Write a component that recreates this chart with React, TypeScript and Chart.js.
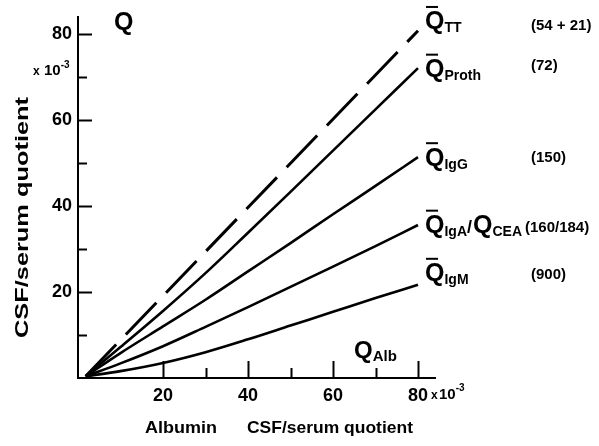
import React, { useEffect, useRef } from "react";
import { Chart, registerables } from "chart.js";

Chart.register(...registerables);

// ---------- data (units: x 10^-3) ----------
const ALBUMIN_Q = [1.8, 10, 20, 30, 40, 50, 60, 70, 80];
const Q_PROTH = [0.4, 7.2, 15.6, 24.4, 33.8, 43.3, 52.9, 62.5, 72.1];
const Q_IGG = [0.4, 5.8, 12.0, 18.2, 24.8, 31.4, 38.1, 44.7, 51.4];
const Q_IGA = [0.4, 3.4, 7.4, 11.9, 16.5, 21.2, 25.9, 30.7, 35.6];
const Q_IGM = [0.4, 1.6, 3.5, 6.0, 9.0, 12.2, 15.4, 18.6, 21.7];
const TT_ALBUMIN_Q = [1.8, 80];
const Q_TT = [0.4, 80.8];

const X_TICK_VALUES = [20, 30, 40, 50, 60, 70, 80];
const Y_TICK_VALUES = [10, 20, 30, 40, 50, 60, 70, 80];
const TICK_LABELS = [20, 40, 60, 80];

const CURVE_SUBS = ["TT", "Proth", "IgG", "IgA", "IgM"];
const CURVE_NOTES = ["(54 + 21)", "(72)", "(150)", "(160/184)", "(900)"];
// vertical anchors (data units) of the curve labels and notes
const LABEL_AT = [81.1, 70.0, 49.4, 33.7, 22.5];
const NOTE_AT = [81.0, 71.7, 50.3, 34.0, 23.0];

const FONT = '"Liberation Sans", Arial, Helvetica, sans-serif';
const INK = "#000";

const pts = (xs: number[], ys: number[]) => xs.map((x, i) => ({ x, y: ys[i] }));

function text(ctx: CanvasRenderingContext2D, s: string, x: number, yb: number, size: number) {
  ctx.font = `bold ${size}px ${FONT}`;
  ctx.textAlign = "left";
  ctx.textBaseline = "alphabetic";
  ctx.fillText(s, x, yb);
  return ctx.measureText(s).width;
}

function fitText(ctx: CanvasRenderingContext2D, s: string, x: number, yb: number, size: number, target: number) {
  ctx.font = `bold ${size}px ${FONT}`;
  const w = ctx.measureText(s).width;
  ctx.save();
  ctx.translate(x, yb);
  ctx.scale(target / w, 1);
  ctx.textAlign = "left";
  ctx.textBaseline = "alphabetic";
  ctx.fillText(s, 0, 0);
  ctx.restore();
}

function qBar(ctx: CanvasRenderingContext2D, x: number, yb: number, size: number, bar: boolean) {
  const w = text(ctx, "Q", x, yb, size);
  if (bar) {
    ctx.fillRect(x + 1, yb - size * 0.74 - 5, 12, 2);
  }
  return w;
}

const decorPlugin = {
  id: "decor",
  afterDraw(chart: any) {
    const { ctx, chartArea, scales } = chart;
    const xs = scales.x;
    const ys = scales.y;
    const { left, bottom } = chartArea;
    ctx.save();
    ctx.strokeStyle = INK;
    ctx.fillStyle = INK;
    ctx.lineWidth = 2;
    ctx.lineCap = "butt";

    // inner tick marks
    Y_TICK_VALUES.forEach((v) => {
      const py = Math.round(ys.getPixelForValue(v)) + 0.5;
      const len = TICK_LABELS.includes(v) ? 14 : 9;
      ctx.beginPath();
      ctx.moveTo(left, py);
      ctx.lineTo(left + len, py);
      ctx.stroke();
    });
    X_TICK_VALUES.forEach((v) => {
      const px = Math.round(xs.getPixelForValue(v)) + 0.5;
      const len = TICK_LABELS.includes(v) ? 17 : 10;
      ctx.beginPath();
      ctx.moveTo(px, bottom);
      ctx.lineTo(px, bottom - len);
      ctx.stroke();
    });

    // axis names
    qBar(ctx, 114, 30, 25, false);
    const qa = text(ctx, "Q", 354, 358, 24);
    text(ctx, "Alb", 354 + qa, 361, 15);

    // y unit
    text(ctx, "x", 33, 75, 12);
    const w10 = text(ctx, "10", 44, 75, 15);
    text(ctx, "-3", 44 + w10, 68, 10);

    // x unit
    const x80 = xs.getPixelForValue(80);
    text(ctx, "x", x80 + 13, 399, 12);
    const w10b = text(ctx, "10", x80 + 21, 399, 15);
    text(ctx, "-3", x80 + 21 + w10b, 391, 10);

    // axis titles
    fitText(ctx, "Albumin", 145, 433, 17, 72);
    fitText(ctx, "CSF/serum quotient", 247, 433, 17, 166);

    ctx.save();
    ctx.translate(28, 338);
    ctx.rotate(-Math.PI / 2);
    fitText(ctx, "CSF/serum quotient", 0, 0, 18, 241);
    ctx.restore();

    // curve labels
    const lx = x80 + 7;
    CURVE_SUBS.forEach((sub, i) => {
      const yb = ys.getPixelForValue(LABEL_AT[i]);
      let cx = lx;
      cx += qBar(ctx, cx, yb, 25, true);
      cx += text(ctx, sub, cx, yb + 3, 14);
      if (sub === "IgA") {
        cx += text(ctx, "/", cx, yb, 18);
        cx += qBar(ctx, cx + 1, yb, 25, false) + 1;
        text(ctx, "CEA", cx, yb + 3, 14);
      }
      const ny = ys.getPixelForValue(NOTE_AT[i]);
      const nx = sub === "IgA" ? 525 : 531;
      text(ctx, CURVE_NOTES[i], nx, ny, 15);
    });

    ctx.restore();
  },
};

export default function App() {
  const ref = useRef<HTMLCanvasElement | null>(null);

  useEffect(() => {
    if (!ref.current) return;
    const solid = (data: { x: number; y: number }[]) => ({
      data,
      borderColor: INK,
      borderWidth: 2.6,
      pointRadius: 0,
      fill: false,
      cubicInterpolationMode: "monotone" as const,
      borderCapStyle: "butt" as const,
    });
    const chart = new Chart(ref.current, {
      type: "line",
      data: {
        datasets: [
          {
            data: pts(TT_ALBUMIN_Q, Q_TT),
            borderColor: INK,
            borderWidth: 3,
            borderDash: [44, 14],
            pointRadius: 0,
            fill: false,
            borderCapStyle: "butt",
          },
          solid(pts(ALBUMIN_Q, Q_PROTH)),
          solid(pts(ALBUMIN_Q, Q_IGG)),
          solid(pts(ALBUMIN_Q, Q_IGA)),
          solid(pts(ALBUMIN_Q, Q_IGM)),
        ],
      },
      options: {
        responsive: false,
        devicePixelRatio: 1,
        animation: false,
        layout: { padding: { left: 0, top: 17, right: 164, bottom: 0 } },
        plugins: { legend: { display: false }, tooltip: { enabled: false } },
        scales: {
          x: {
            type: "linear",
            min: 0,
            max: 84,
            position: "bottom",
            afterFit: (s: any) => {
              s.height = 68;
            },
            afterBuildTicks: (s: any) => {
              s.ticks = TICK_LABELS.map((v) => ({ value: v }));
            },
            ticks: {
              color: INK,
              font: { family: FONT, size: 18, weight: "bold" },
              padding: 7,
              maxRotation: 0,
              autoSkip: false,
              callback: (v: any) => String(v),
            },
            grid: { display: false, drawTicks: false },
            border: { display: true, color: INK, width: 2 },
          },
          y: {
            type: "linear",
            min: 0,
            max: 84,
            afterFit: (s: any) => {
              s.width = 78;
            },
            afterBuildTicks: (s: any) => {
              s.ticks = TICK_LABELS.map((v) => ({ value: v }));
            },
            ticks: {
              color: INK,
              font: { family: FONT, size: 18, weight: "bold" },
              padding: 6,
              autoSkip: false,
              callback: (v: any) => String(v),
            },
            grid: { display: false, drawTicks: false },
            border: { display: true, color: INK, width: 2 },
          },
        },
      },
      plugins: [decorPlugin],
    });
    return () => chart.destroy();
  }, []);

  return (
    <div style={{ position: "fixed", left: 0, top: 0, width: 599, height: 446, background: "#fff" }}>
      <canvas ref={ref} width={599} height={446} style={{ display: "block" }} />
    </div>
  );
}
